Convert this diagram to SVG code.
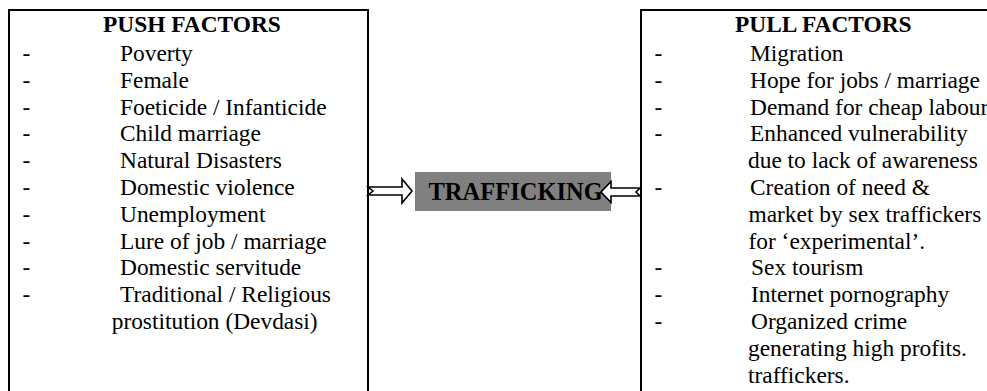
<svg xmlns="http://www.w3.org/2000/svg" width="987" height="391" viewBox="0 0 987 391">
<style>
.t{font-family:"Liberation Serif","Times New Roman",serif;font-size:23.4px;fill:#000}
.b{font-weight:bold}
.box{fill:#fff;stroke:#000;stroke-width:2}
.arr{fill:#fff;stroke:#000;stroke-width:1.6;stroke-linejoin:miter}
</style>
<rect width="987" height="391" fill="#fff"/>
<g id="push">
<rect class="box" x="9" y="10" width="359" height="400"/>
<text class="t b" x="103" y="32">PUSH FACTORS</text>
<text class="t" x="22.5" y="61">-</text><text class="t" x="120" y="61">Poverty</text>
<text class="t" x="22.5" y="87.8">-</text><text class="t" x="120" y="87.8">Female</text>
<text class="t" x="22.5" y="114.6">-</text><text class="t" x="120" y="114.6">Foeticide / Infanticide</text>
<text class="t" x="22.5" y="141.4">-</text><text class="t" x="120" y="141.4">Child marriage</text>
<text class="t" x="22.5" y="168.2">-</text><text class="t" x="120" y="168.2">Natural Disasters</text>
<text class="t" x="22.5" y="195">-</text><text class="t" x="120" y="195">Domestic violence</text>
<text class="t" x="22.5" y="221.8">-</text><text class="t" x="120" y="221.8">Unemployment</text>
<text class="t" x="22.5" y="248.6">-</text><text class="t" x="120" y="248.6">Lure of job / marriage</text>
<text class="t" x="22.5" y="275.4">-</text><text class="t" x="120" y="275.4">Domestic servitude</text>
<text class="t" x="22.5" y="302.2">-</text><text class="t" x="120" y="302.2">Traditional / Religious</text>
<text class="t" x="111.7" y="329">prostitution (Devdasi)</text>
</g>
<g id="pull">
<rect class="box" x="641" y="10" width="400" height="400"/>
<text class="t b" x="735" y="32">PULL FACTORS</text>
<text class="t" x="654.5" y="61">-</text><text class="t" x="750" y="61">Migration</text>
<text class="t" x="654.5" y="87.8">-</text><text class="t" x="750" y="87.8">Hope for jobs / marriage</text>
<text class="t" x="654.5" y="114.6">-</text><text class="t" x="750" y="114.6">Demand for cheap labour</text>
<text class="t" x="654.5" y="141.4">-</text><text class="t" x="750" y="141.4">Enhanced vulnerability</text>
<text class="t" x="748" y="168.2">due to lack of awareness</text>
<text class="t" x="654.5" y="195">-</text><text class="t" x="750" y="195">Creation of need &amp;</text>
<text class="t" x="748.5" y="221.8">market by sex traffickers</text>
<text class="t" x="748.5" y="248.6">for ‘experimental’.</text>
<text class="t" x="654.5" y="275.4">-</text><text class="t" x="751" y="275.4">Sex tourism</text>
<text class="t" x="654.5" y="302.2">-</text><text class="t" x="751" y="302.2">Internet pornography</text>
<text class="t" x="654.5" y="329">-</text><text class="t" x="751" y="329">Organized crime</text>
<text class="t" x="748" y="355.8">generating high profits.</text>
<text class="t" x="748" y="382.6">traffickers.</text>
</g>
<g id="trafficking">
<rect x="415" y="172" width="196" height="39" fill="#808080"/>
<text class="t b" x="428.5" y="200" style="font-size:24.5px">TRAFFICKING</text>
</g>
<g id="connectors">
<path class="arr" d="M368,187 L402,187 L402,179 L412,191 L402,203 L402,195 L368,195 L373,191 Z"/>
<path class="arr" d="M640,188 L611,188 L611,181.5 L601,192 L611,202.5 L611,196 L640,196 L636,192 Z"/>
</g>
</svg>
